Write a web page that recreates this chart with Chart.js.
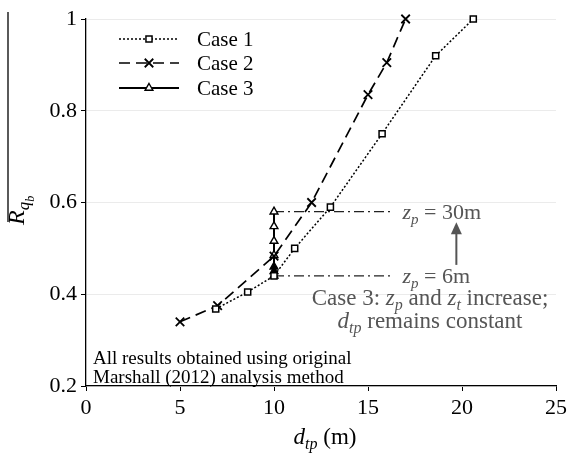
<!DOCTYPE html>
<html>
<head>
<meta charset="utf-8">
<script src="https://cdn.jsdelivr.net/npm/chart.js@4"></script>
<style>
  html, body { margin: 0; padding: 0; background: #fff; }
  canvas { display: block; }
</style>
</head>
<body>
<canvas id="chart" width="571" height="455"></canvas>
<script>
// values
const case1X = [6.9, 8.6, 10, 11.1, 13, 15.75, 18.6, 20.6];
const case1Y = [0.368, 0.405, 0.44, 0.5, 0.59, 0.75, 0.92, 1.0];
const case2X = [5, 7, 10, 12, 15, 16, 17];
const case2Y = [0.34, 0.375, 0.483, 0.6, 0.835, 0.905, 1.0];
const case3X = [10, 10, 10, 10, 10, 10, 10];
const case3Y = [0.44, 0.45, 0.46, 0.485, 0.516, 0.548, 0.58];

// z_p guide lines and arrow
const guideX = [10, 16.3];
const guideY = [0.44, 0.58];
const arrowX = 19.7;
const arrowY = [0.464, 0.557];

const xTicks = [0, 5, 10, 15, 20, 25];
const yTicks = [0.2, 0.4, 0.6, 0.8, 1];

const SERIF = '"Liberation Serif", "Times New Roman", serif';
const GREY = '#555555';

const pts = (xs, ys) => xs.map((x, i) => ({ x: x, y: ys[i] }));

// draws a row of text pieces (italic, smaller, shifted) starting at x
function richText(ctx, parts, x, y, align) {
  let total = 0;
  parts.forEach(p => {
    ctx.font = (p.italic ? 'italic ' : '') + p.size + 'px ' + SERIF;
    p.w = ctx.measureText(p.t).width;
    total += p.w;
  });
  let cx = align === 'center' ? x - total / 2 : x;
  parts.forEach(p => {
    ctx.font = (p.italic ? 'italic ' : '') + p.size + 'px ' + SERIF;
    ctx.fillText(p.t, cx, y + (p.dy || 0));
    cx += p.w;
  });
}

const legendRows = [
  { label: 'Case 1', ds: 0, y: 39 },
  { label: 'Case 2', ds: 1, y: 63 },
  { label: 'Case 3', ds: 2, y: 88 }
];

const extras = {
  id: 'extras',
  afterDraw(chart) {
    const ctx = chart.ctx;
    const xs = chart.scales.x, ys = chart.scales.y;
    ctx.save();
    ctx.textBaseline = 'alphabetic';
    ctx.textAlign = 'left';

    // legend
    legendRows.forEach(r => {
      const ds = chart.data.datasets[r.ds];
      ctx.save();
      ctx.strokeStyle = '#000';
      ctx.lineWidth = ds.borderWidth;
      ctx.setLineDash(ds.borderDash || []);
      ctx.beginPath();
      ctx.moveTo(119, r.y);
      ctx.lineTo(179, r.y);
      ctx.stroke();
      ctx.setLineDash([]);
      ctx.fillStyle = '#fff';
      ctx.lineWidth = ds.pointBorderWidth;
      Chart.helpers.drawPoint(ctx, {
        pointStyle: ds.pointStyle, radius: ds.pointRadius, rotation: 0, borderWidth: ds.pointBorderWidth
      }, 149, r.y);
      ctx.restore();
      ctx.fillStyle = '#000';
      ctx.font = '21px ' + SERIF;
      ctx.textBaseline = 'middle';
      ctx.fillText(r.label, 197, r.y + 1);
      ctx.textBaseline = 'alphabetic';
    });

    // z_p labels
    ctx.fillStyle = GREY;
    const tx = xs.getPixelForValue(guideX[1]) + 10;
    richText(ctx, [
      { t: 'z', italic: true, size: 22 },
      { t: 'p', italic: true, size: 15, dy: 5 },
      { t: ' = 30m', size: 22 }
    ], tx, ys.getPixelForValue(guideY[1]) + 7);
    richText(ctx, [
      { t: 'z', italic: true, size: 22 },
      { t: 'p', italic: true, size: 15, dy: 5 },
      { t: ' = 6m', size: 22 }
    ], tx, ys.getPixelForValue(guideY[0]) + 7);

    // arrow
    const ax = xs.getPixelForValue(arrowX);
    const ay0 = ys.getPixelForValue(arrowY[0]);
    const ay1 = ys.getPixelForValue(arrowY[1]);
    ctx.strokeStyle = GREY;
    ctx.lineWidth = 2;
    ctx.beginPath();
    ctx.moveTo(ax, ay0);
    ctx.lineTo(ax, ay1 + 10);
    ctx.stroke();
    ctx.beginPath();
    ctx.moveTo(ax, ay1);
    ctx.lineTo(ax - 5.5, ay1 + 12);
    ctx.lineTo(ax + 5.5, ay1 + 12);
    ctx.closePath();
    ctx.fill();

    // Case 3 note
    richText(ctx, [
      { t: 'Case 3: ', size: 23 },
      { t: 'z', italic: true, size: 23 },
      { t: 'p', italic: true, size: 16, dy: 5 },
      { t: ' and ', size: 23 },
      { t: 'z', italic: true, size: 23 },
      { t: 't', italic: true, size: 16, dy: 5 },
      { t: ' increase;', size: 23 }
    ], 430, 305, 'center');
    richText(ctx, [
      { t: 'd', italic: true, size: 23 },
      { t: 'tp', italic: true, size: 16, dy: 5 },
      { t: ' remains constant', size: 23 }
    ], 430, 328, 'center');

    // method note
    ctx.fillStyle = '#000';
    ctx.font = '19px ' + SERIF;
    ctx.fillText('All results obtained using original', 93, 364);
    ctx.fillText('Marshall (2012) analysis method', 93, 383);

    // x axis title
    richText(ctx, [
      { t: 'd', italic: true, size: 23 },
      { t: 'tp', italic: true, size: 16, dy: 5 },
      { t: ' (m)', size: 23 }
    ], (xs.left + xs.right) / 2 + 4, 444, 'center');

    // y axis title with overbar
    ctx.save();
    ctx.translate(24, 225);
    ctx.rotate(-Math.PI / 2);
    richText(ctx, [
      { t: 'R', italic: true, size: 24 },
      { t: 'q', italic: true, size: 17, dy: 5 },
      { t: 'b', italic: true, size: 12, dy: 10 }
    ], 0, 0);
    ctx.restore();
    ctx.strokeStyle = '#000';
    ctx.lineWidth = 1.3;
    ctx.beginPath();
    ctx.moveTo(8, 12);
    ctx.lineTo(8, 222);
    ctx.stroke();

    ctx.restore();
  }
};

new Chart(document.getElementById('chart'), {
  type: 'scatter',
  data: {
    datasets: [
      {
        label: 'Case 1',
        data: pts(case1X, case1Y),
        showLine: true,
        clip: false,
        borderColor: '#000',
        borderWidth: 1.5,
        borderDash: [2, 2],
        pointStyle: 'rect',
        pointRadius: 4.3,
        pointBorderWidth: 1.5,
        pointBorderColor: '#000',
        pointBackgroundColor: '#fff'
      },
      {
        label: 'Case 2',
        data: pts(case2X, case2Y),
        showLine: true,
        clip: false,
        borderColor: '#000',
        borderWidth: 1.7,
        borderDash: [11, 6],
        pointStyle: 'crossRot',
        pointRadius: 6,
        pointBorderWidth: 1.8,
        pointBorderColor: '#000',
        pointBackgroundColor: '#fff'
      },
      {
        label: 'Case 3',
        data: pts(case3X, case3Y),
        showLine: true,
        clip: false,
        borderColor: '#000',
        borderWidth: 2,
        pointStyle: 'triangle',
        pointRadius: 4.5,
        pointBorderWidth: 1.4,
        pointBorderColor: '#000',
        // the crowded low triangles look solid in the figure
        pointBackgroundColor: ctx => (ctx.dataIndex > 0 && ctx.dataIndex < 3 ? '#000' : '#fff')
      },
      {
        label: 'z_p = 30m',
        data: pts(guideX, [guideY[1], guideY[1]]),
        showLine: true,
        borderColor: '#222',
        borderWidth: 1.3,
        borderDash: [10, 4, 2, 4],
        pointRadius: 0
      },
      {
        label: 'z_p = 6m',
        data: pts(guideX, [guideY[0], guideY[0]]),
        showLine: true,
        borderColor: '#222',
        borderWidth: 1.3,
        borderDash: [10, 4, 2, 4],
        pointRadius: 0
      }
    ]
  },
  options: {
    responsive: false,
    animation: false,
    devicePixelRatio: 1,
    layout: { padding: { top: 19, right: 15, left: 0, bottom: 0 } },
    plugins: {
      legend: { display: false },
      tooltip: { enabled: false }
    },
    scales: {
      x: {
        type: 'linear',
        min: 0,
        max: 25,
        afterBuildTicks: s => { s.ticks = xTicks.map(v => ({ value: v })); },
        afterFit: s => { s.height = 69; },
        border: { color: '#000', width: 1.3 },
        grid: { drawOnChartArea: false, tickColor: '#000', tickLength: 5 },
        ticks: {
          color: '#000',
          padding: 4,
          font: { family: SERIF, size: 22 },
          maxRotation: 0
        }
      },
      y: {
        min: 0.2,
        max: 1,
        afterBuildTicks: s => { s.ticks = yTicks.map(v => ({ value: v })); },
        afterFit: s => { s.width = 86; },
        border: { color: '#000', width: 1.3 },
        grid: { color: '#ebebeb', tickColor: '#000', tickLength: 5 },
        ticks: {
          color: '#000',
          padding: 4,
          font: { family: SERIF, size: 22 },
          callback: v => String(v)
        }
      }
    }
  },
  plugins: [extras]
});
</script>
</body>
</html>
